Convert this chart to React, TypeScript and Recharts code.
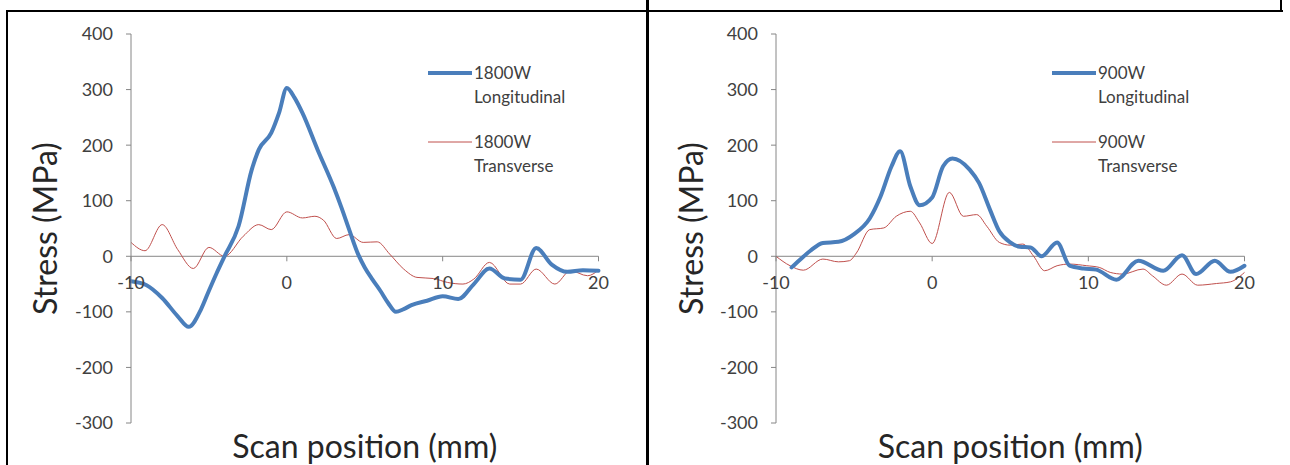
import React from 'react';
import { LineChart, Line, XAxis, YAxis, ReferenceLine, ReferenceDot } from 'recharts';

const X_TICKS = [-10, 0, 10, 20];
const Y_TICKS = [-300, -200, -100, 0, 100, 200, 300, 400];

// 1800 W panel
const L_LONG_X = [-10, -9, -8, -7, -6.3, -5.5, -5, -4.5, -4, -3.1, -2.25, -1.8, -1, -0.5, 0, 0.5, 1, 2, 3, 3.5, 4, 4.6, 5, 5.5, 6, 6.5, 7, 7.5, 8, 9, 10, 11, 12, 13, 14, 15, 16, 17, 18, 19, 20];
const L_LONG_Y = [-45, -52, -75, -108, -127, -95, -62, -30, 0, 54, 156, 192, 222, 258, 303, 285, 258, 190, 125, 88, 48, 2, -20, -42, -62, -84, -100, -95, -88, -80, -72, -77, -50, -22, -40, -42, 15, -15, -28, -25, -26];
const L_TRANS_X = [-10, -9.1, -8, -7, -6, -5, -4, -2.8, -1.8, -1, 0, 1, 1.8, 2.35, 3.2, 4, 4.9, 5.8, 6.6, 7.5, 8.35, 9.4, 10.3, 11.3, 12, 13, 14.3, 15, 16, 17.2, 18.2, 19.3, 20];
const L_TRANS_Y = [25, 10, 57, 12, -22, 16, 0, 36, 57, 48, 80, 69, 72, 65, 32, 39, 25, 26, 4, -23, -38, -40, -47, -50, -41, -11, -50, -50, -23, -50, -26, -35, -25];

// 900 W panel
const R_LONG_X = [-9, -8.5, -7.8, -7, -6, -5, -4, -3.3, -2.6, -2.05, -1.4, -0.8, 0, 0.7, 1.3, 2.4, 3, 3.7, 4.3, 5, 5.6, 6.3, 7, 8, 8.8, 9.7, 10.5, 11.8, 13.2, 14.8, 16, 16.9, 18.1, 19.1, 20];
const R_LONG_Y = [-20, -7, 10, 24, 26, 40, 68, 108, 162, 189, 126, 92, 106, 162, 176, 156, 132, 84, 45, 25, 17, 16, 0, 25, -17, -22, -24, -42, -8, -26, 2, -32, -8, -28, -17];
const R_TRANS_X = [-10, -9.1, -8.25, -7, -6, -5.3, -4.85, -4, -3.1, -2.3, -1.4, -0.8, 0, 1.1, 2, 2.85, 3.5, 4.3, 5, 5.8, 6.5, 7.2, 8, 8.8, 9.9, 10.7, 11.4, 12.2, 13.5, 14.1, 15, 16, 17, 18.2, 19.1, 20];
const R_TRANS_Y = [0, -17, -25, -5, -10, -8, 6, 48, 51, 72, 81, 60, 23, 115, 72, 75, 54, 25, 20, 22, 0, -26, -17, -14, -17, -20, -29, -32, -23, -35, -52, -32, -52, -49, -46, -29];

const toPoints = (xs: number[], ys: number[]) => xs.map((x, i) => ({ x, y: ys[i] }));

const FONT = 'Lato, "Open Sans", sans-serif';
const AXIS = '#868686';
const TEXT = '#404040';
const BLUE = '#4A7EBB';
const RED = '#C0504D';

type PanelProps = {
    left: number;
    width: number;
    yAxisWidth: number;
    marginRight: number;
    power: string;
    longData: { x: number; y: number }[];
    transData: { x: number; y: number }[];
    legendLeft: number;
    yTitleDx: number;
};

const Panel = ({ left, width, yAxisWidth, marginRight, power, longData, transData, legendLeft, yTitleDx }: PanelProps) => {
    const legend = [
        { name: `${power} Longitudinal`, color: BLUE, w: 4, top: 61 },
        { name: `${power} Transverse`, color: RED, w: 1, top: 130 },
    ];
    return (
        <div style={{ position: 'absolute', left, top: 0, width, height: 465 }}>
            <LineChart width={width} height={465} margin={{ top: 34, right: marginRight, bottom: 0, left: 0 }}>
                <XAxis
                    type="number"
                    dataKey="x"
                    domain={[-10, 20]}
                    ticks={X_TICKS}
                    axisLine={false}
                    tickLine={false}
                    tick={false}
                    height={42}
                    label={{ value: 'Scan position (mm)', position: 'center', dy: 3, fill: '#262626', fontSize: 32, fontFamily: FONT }}
                />
                <YAxis
                    type="number"
                    domain={[-300, 400]}
                    ticks={Y_TICKS}
                    width={yAxisWidth}
                    tickSize={5}
                    tickMargin={13}
                    axisLine={{ stroke: AXIS }}
                    tickLine={{ stroke: AXIS }}
                    tick={{ fill: TEXT, fontSize: 18, fontFamily: FONT }}
                    label={{ value: 'Stress (MPa)', angle: -90, position: 'center', dx: yTitleDx, fill: '#262626', fontSize: 32, fontFamily: FONT }}
                />
                <ReferenceLine y={0} stroke={AXIS} />
                {X_TICKS.map(t => (
                    <ReferenceDot
                        key={t}
                        x={t}
                        y={0}
                        r={0}
                        ifOverflow="visible"
                        shape={(p: any) => (
                            <g>
                                <line x1={p.cx} y1={p.cy} x2={p.cx} y2={p.cy + 5} stroke={AXIS} />
                                <text x={p.cx} y={p.cy + 33} textAnchor="middle" fill={TEXT} fontSize={18} fontFamily={FONT}>{t}</text>
                            </g>
                        )}
                    />
                ))}
                <Line data={transData} dataKey="y" type="monotone" stroke={RED} strokeWidth={1} dot={false} isAnimationActive={false} />
                <Line data={longData} dataKey="y" type="monotone" stroke={BLUE} strokeWidth={4} dot={false} strokeLinejoin="round" strokeLinecap="round" isAnimationActive={false} />
            </LineChart>
            {legend.map(s => {
                const [p, ...rest] = s.name.split(' ');
                return (
                    <div key={s.name} style={{ position: 'absolute', left: legendLeft, top: s.top, fontFamily: FONT, fontSize: 17, lineHeight: '24px', color: TEXT }}>
                        <svg width={44} height={24} style={{ position: 'absolute', left: 0, top: 0 }}>
                            <line x1={0} y1={12} x2={44} y2={12} stroke={s.color} strokeWidth={s.w} />
                        </svg>
                        <div style={{ marginLeft: 46 }}>{p}<br />{rest.join(' ')}</div>
                    </div>
                );
            })}
        </div>
    );
};

const line = (l: number, t: number, w: number, h: number) => (
    <div style={{ position: 'absolute', left: l, top: t, width: w, height: h, background: '#000' }} />
);

export default function App() {
    return (
        <div style={{ position: 'absolute', left: 0, top: 0, width: 1290, height: 465, background: '#fff', overflow: 'hidden' }}>
            <Panel left={0} width={640} yAxisWidth={131} marginRight={41.5} power="1800W" longData={toPoints(L_LONG_X, L_LONG_Y)} transData={toPoints(L_TRANS_X, L_TRANS_Y)} legendLeft={428} yTitleDx={-20} />
            <Panel left={640} width={650} yAxisWidth={136} marginRight={45.5} power="900W" longData={toPoints(R_LONG_X, R_LONG_Y)} transData={toPoints(R_TRANS_X, R_TRANS_Y)} legendLeft={412} yTitleDx={-16} />
            {line(6, 10, 1277, 2)}
            {line(6, 10, 2, 455)}
            {line(646, 0, 3, 465)}
            {line(1280, 0, 2, 12)}
        </div>
    );
}
